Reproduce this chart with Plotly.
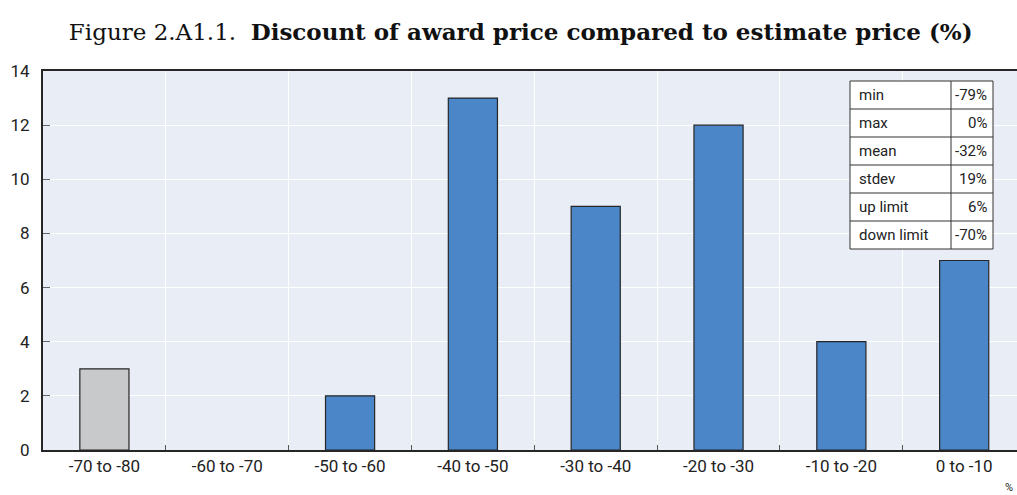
import plotly.graph_objects as go

# Histogram of award-price discounts (number of contracts per band)
categories = ["-70 to -80", "-60 to -70", "-50 to -60", "-40 to -50",
              "-30 to -40", "-20 to -30", "-10 to -20", "0 to -10"]
counts = [3, 0, 2, 13, 9, 12, 4, 7]
outlier_band = ["-70 to -80"]

# Summary statistics table
stat_names = ["min", "max", "mean", "stdev", "up limit", "down limit"]
stat_values = ["-79%", "0%", "-32%", "19%", "6%", "-70%"]

y_ticks = [0, 2, 4, 6, 8, 10, 12, 14]

BLUE = "#4a86c8"
GREY = "#c8c9cb"
EDGE = "#262626"
BG = "#e9edf6"
NARROW = "Liberation Sans Narrow, Roboto, Arial"
TICK_FONT = dict(family=NARROW, size=17, color="#222")

colors = [GREY if c in outlier_band else BLUE for c in categories]
edge_widths = [1.2 if v > 0 else 0 for v in counts]

fig = go.Figure()
fig.add_trace(go.Bar(
    x=categories, y=counts, width=0.4,
    marker=dict(color=colors, line=dict(color=EDGE, width=edge_widths)),
    hoverinfo="x+y",
))

W, H = 1017, 495
ml, mr, mt, mb = 43, 0, 71, 45

fig.update_layout(
    width=W, height=H,
    margin=dict(l=ml, r=mr, t=mt, b=mb),
    paper_bgcolor="white",
    plot_bgcolor=BG,
    showlegend=False,
    title=dict(
        text="Figure 2.A1.1.  <b>Discount of award price compared to estimate price (%)</b>",
        x=0.512, xanchor="center", y=0.935, yanchor="middle",
        font=dict(family="DejaVu Serif, serif", size=23, color="#111"),
    ),
    xaxis=dict(
        type="category",
        categoryorder="array", categoryarray=categories,
        range=[-0.5, 7.43],
        tickson="boundaries",
        ticks="inside", ticklen=5, tickcolor="#555", tickwidth=1,
        showgrid=True, gridcolor="white", gridwidth=1,
        showline=True, linecolor=EDGE, linewidth=2,
        mirror=True,
        tickfont=TICK_FONT,
        zeroline=False,
        fixedrange=True,
    ),
    yaxis=dict(
        range=[0, 14],
        tickvals=y_ticks,
        ticks="inside", ticklen=7, tickcolor="#666", tickwidth=1,
        showgrid=True, gridcolor="white", gridwidth=1,
        showline=True, linecolor=EDGE, linewidth=2,
        zeroline=False,
        tickfont=TICK_FONT,
        ticklabelstandoff=8,
        fixedrange=True,
    ),
)

# Statistics table drawn in the upper-right corner of the plotting area
pw = W - ml - mr
ph = H - mt - mb
def px_x(v):
    return (v - ml) / pw
def px_y(v):
    return 1 - (v - mt) / ph

tx0, tx1, tdiv = 850, 993, 951
ty0, row_h = 81, 28
n = len(stat_names)
ty1 = ty0 + row_h * n

fig.add_shape(type="rect", xref="paper", yref="paper",
              x0=px_x(tx0), x1=px_x(tx1), y0=px_y(ty1), y1=px_y(ty0),
              fillcolor="white", line=dict(color="#333", width=1), layer="above")
fig.add_shape(type="line", xref="paper", yref="paper",
              x0=px_x(tdiv), x1=px_x(tdiv), y0=px_y(ty1), y1=px_y(ty0),
              line=dict(color="#333", width=1))
for i in range(1, n):
    yy = ty0 + row_h * i
    fig.add_shape(type="line", xref="paper", yref="paper",
                  x0=px_x(tx0), x1=px_x(tx1), y0=px_y(yy), y1=px_y(yy),
                  line=dict(color="#333", width=1))

cell_font = dict(family=NARROW, size=15, color="#222")
for i, (name, val) in enumerate(zip(stat_names, stat_values)):
    yc = px_y(ty0 + row_h * (i + 0.5))
    fig.add_annotation(text=name, xref="paper", yref="paper",
                       x=px_x(tx0 + 7), y=yc, xanchor="left", yanchor="middle",
                       showarrow=False, font=cell_font)
    fig.add_annotation(text=val, xref="paper", yref="paper",
                       x=px_x(tx1 - 4), y=yc, xanchor="right", yanchor="middle",
                       showarrow=False, font=cell_font)

# Unit marker at the bottom-right corner
fig.add_annotation(text="%", xref="paper", yref="paper",
                   x=px_x(1015), y=px_y(487), xanchor="right", yanchor="middle",
                   showarrow=False,
                   font=dict(family=NARROW, size=11, color="#222"))

fig.write_html("out.html")
